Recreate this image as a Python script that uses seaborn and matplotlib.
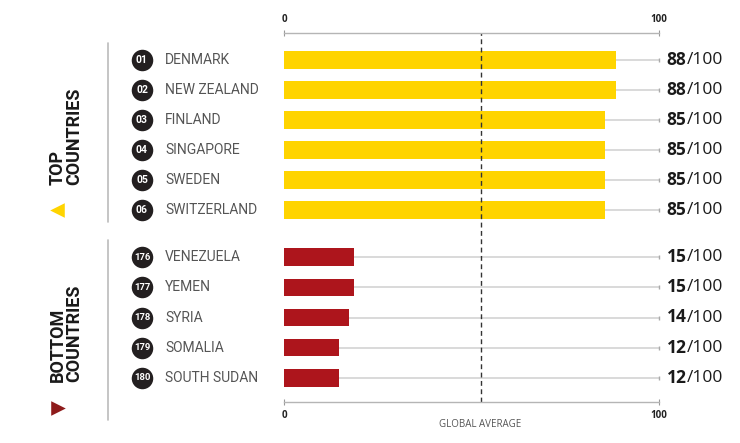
import matplotlib
matplotlib.use("Agg")
import matplotlib.pyplot as plt
import seaborn as sns
import pandas as pd
from matplotlib import font_manager as fm
from matplotlib import transforms

# ---------------- data ----------------
top_ranks = ["01", "02", "03", "04", "05", "06"]
top_countries = ["DENMARK", "NEW ZEALAND", "FINLAND", "SINGAPORE", "SWEDEN", "SWITZERLAND"]
top_scores = [88, 88, 85, 85, 85, 85]
top_bar_values = [88.5, 88.5, 85.6, 85.6, 85.6, 85.6]

bottom_ranks = ["176", "177", "178", "179", "180"]
bottom_countries = ["VENEZUELA", "YEMEN", "SYRIA", "SOMALIA", "SOUTH SUDAN"]
bottom_scores = [15, 15, 14, 12, 12]
bottom_bar_values = [18.7, 18.7, 17.2, 14.6, 14.6]

global_average = 52.4
axis_ticks = [0, 100]
group_titles = ["TOP\nCOUNTRIES", "BOTTOM\nCOUNTRIES"]

# ---------------- style ----------------
sns.set_theme(style="white")


def has_font(name):
    try:
        fm.findfont(fm.FontProperties(family=name), fallback_to_default=False)
        return True
    except Exception:
        return False


NARROW = "Liberation Sans Narrow" if has_font("Liberation Sans Narrow") else "Roboto"
plt.rcParams["font.family"] = ["Open Sans", "DejaVu Sans"]

YELLOW = "#FFD400"
RED = "#AD151C"
DARK_RED = "#8E1B1B"
CIRCLE = "#231F20"
GRAY_TXT = "#555555"
LEADER = "#D3D3D3"
AXIS = "#B5B5B5"

W, H = 740, 443
fig = plt.figure(figsize=(W / 100, H / 100), dpi=100)


def fx(px):
    return px / W


def fy(py):
    return 1 - py / H


X0, X1 = 284, 659  # pixel positions of 0 and 100


def bar_axes(y_top, y_bottom):
    return fig.add_axes([fx(X0), fy(y_bottom), fx(X1) - fx(X0), fy(y_top) - fy(y_bottom)])


# ---------------- bar panels ----------------
panels = [
    (bar_axes(45, 225), top_ranks, top_countries, top_scores, top_bar_values, YELLOW),
    (bar_axes(241.9, 393.1), bottom_ranks, bottom_countries, bottom_scores, bottom_bar_values, RED),
]

for ax, ranks, names, scores, bars, color in panels:
    df = pd.DataFrame({"country": names, "bar": bars, "score": scores})
    sns.barplot(data=df, x="bar", y="country", orient="h", color=color,
                width=0.57, saturation=1, ax=ax, linewidth=0)
    ax.set_xlim(0, 100)
    ax.set_ylim(len(names) - 0.5, -0.5)
    ax.axis("off")
    ax.patch.set_alpha(0)
    ys = list(range(len(names)))
    # leader lines to 100
    ax.hlines(ys, df["bar"], 100, color=LEADER, lw=1.2, zorder=0, clip_on=False)
    ax.plot([100] * len(ys), ys, ls="none", marker="|", ms=3, mew=1, color="#AAAAAA",
            clip_on=False)
    blend = transforms.blended_transform_factory(fig.transFigure, ax.transData)
    # rank circles
    ax.scatter([fx(142)] * len(ys), ys, s=240, color=CIRCLE, transform=blend,
               clip_on=False, zorder=5, linewidths=0)
    for y, r, n, s in zip(ys, ranks, names, scores):
        ax.text(fx(142), y, r, transform=blend, ha="center", va="center",
                color="white", fontsize=7.5 if len(r) < 3 else 6.8, fontweight="bold",
                family=[NARROW, "DejaVu Sans"], zorder=6)
        ax.text(fx(165), y, n, transform=blend, ha="left", va="center",
                color=GRAY_TXT, fontsize=10, family=[NARROW, "DejaVu Sans"])
        ax.text(fx(686.5), y, f"{s}", transform=blend, ha="right", va="center",
                color="#1A1A1A", fontsize=12.5, fontweight="bold")
        ax.text(fx(686.5), y, "/100", transform=blend, ha="left", va="center",
                color="#1A1A1A", fontsize=12.5)

# ---------------- frame axes (scale lines + global average) ----------------
fr = fig.add_axes([fx(X0), fy(402), fx(X1) - fx(X0), fy(33) - fy(402)], zorder=5)
fr.patch.set_alpha(0)
fr.set_xlim(0, 100)
fr.set_ylim(0, 1)
for side in ["left", "right"]:
    fr.spines[side].set_visible(False)
for side in ["top", "bottom"]:
    fr.spines[side].set_color(AXIS)
    fr.spines[side].set_linewidth(1)
fr.set_yticks([])
fr.set_xticks(axis_ticks)
fr.set_xticklabels([str(t) for t in axis_ticks])
fr.tick_params(axis="x", top=True, labeltop=True, bottom=True, labelbottom=True,
               direction="inout", length=4, width=0.8, color="#999999",
               labelsize=7, pad=4)
for lab in fr.get_xticklabels():
    lab.set_fontweight("bold")
    lab.set_color("#222222")
fr.axvline(global_average, color="#333333", lw=1, ls=(0, (3.5, 2.5)))
fr.text(global_average, -0.06, "GLOBAL AVERAGE", transform=fr.transData,
        ha="center", va="center", fontsize=7, color=GRAY_TXT)

# ---------------- left decorations ----------------
deco = fig.add_axes([0, 0, 1, 1], zorder=-1)
deco.set_xlim(0, W)
deco.set_ylim(H, 0)
deco.axis("off")
deco.plot([108, 108], [43, 222], color="#BBBBBB", lw=1.2)
deco.plot([108, 108], [240, 420], color="#BBBBBB", lw=1.2)
deco.scatter([57], [210], marker="<", s=110, color=YELLOW, linewidths=0)
deco.scatter([58], [408], marker=">", s=110, color=DARK_RED, linewidths=0)

fig.text(fx(66), fy(185), group_titles[0], rotation=90, ha="center", va="bottom",
         multialignment="left", fontsize=13, fontweight="bold", color="#1A1A1A",
         linespacing=0.85, family=[NARROW, "DejaVu Sans"])
fig.text(fx(66), fy(382), group_titles[1], rotation=90, ha="center", va="bottom",
         multialignment="left", fontsize=13, fontweight="bold", color="#1A1A1A",
         linespacing=0.85, family=[NARROW, "DejaVu Sans"])

fig.savefig("out.png", dpi=100)
